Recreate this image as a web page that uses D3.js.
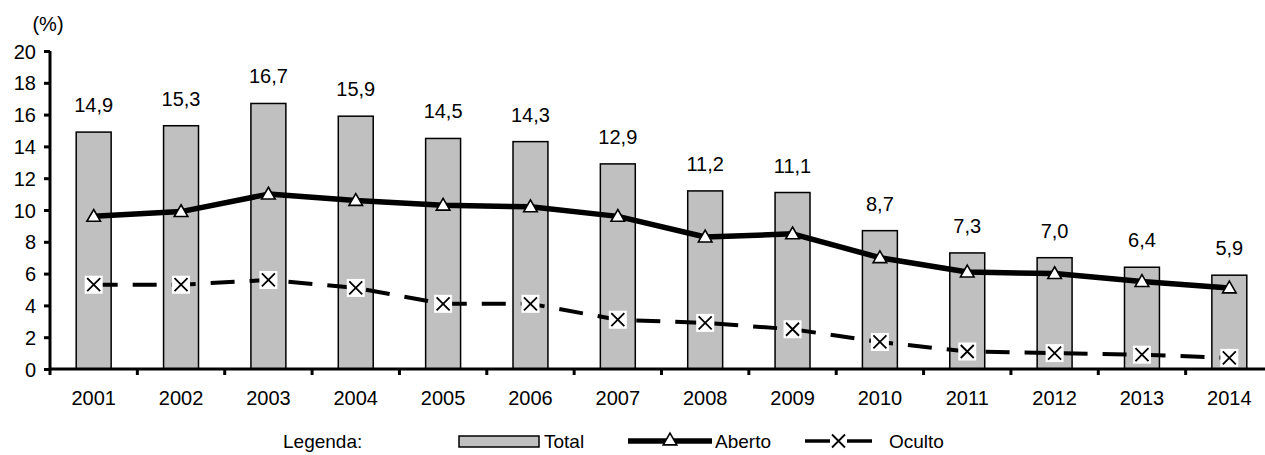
<!DOCTYPE html>
<html>
<head>
<meta charset="utf-8">
<script src="https://cdn.jsdelivr.net/npm/d3@7"></script>
<style>
  body { margin: 0; background: #fff; }
  svg text { font-family: Arial, "Liberation Sans", sans-serif; fill: #000; }
</style>
</head>
<body>
<div id="chart"></div>
<script>
const years = ["2001", "2002", "2003", "2004", "2005", "2006", "2007", "2008", "2009", "2010", "2011", "2012", "2013", "2014"];
const total = [14.9, 15.3, 16.7, 15.9, 14.5, 14.3, 12.9, 11.2, 11.1, 8.7, 7.3, 7.0, 6.4, 5.9];
const aberto = [9.6, 9.9, 11.0, 10.6, 10.3, 10.2, 9.6, 8.3, 8.5, 7.0, 6.1, 6.0, 5.5, 5.1];
const oculto = [5.3, 5.3, 5.6, 5.1, 4.1, 4.1, 3.1, 2.9, 2.5, 1.7, 1.1, 1.0, 0.9, 0.7];
const yTicks = [0, 2, 4, 6, 8, 10, 12, 14, 16, 18, 20];

const W = 1265, H = 455;
const fmt = v => v.toFixed(1).replace(".", ",");

const svg = d3.select("#chart").append("svg")
    .attr("width", W)
    .attr("height", H);

// scales
const x = d3.scaleBand()
    .domain(years)
    .range([50, 1273])
    .paddingInner(0.6)
    .paddingOuter(0.3);
const cx = d => x(d) + x.bandwidth() / 2;
const step = x.step();

const y = d3.scaleLinear()
    .domain([0, 20])
    .range([369, 51]);

// bars
svg.selectAll(".bar")
    .data(years)
    .enter()
    .append("rect")
    .attr("class", "bar")
    .attr("x", d => x(d))
    .attr("y", (d, i) => y(total[i]))
    .attr("width", x.bandwidth())
    .attr("height", (d, i) => y(0) - y(total[i]))
    .style("fill", "#c0c0c0")
    .style("stroke", "#000")
    .style("stroke-width", 1.5);

svg.selectAll(".bar-label")
    .data(years)
    .enter()
    .append("text")
    .attr("class", "bar-label")
    .attr("x", d => cx(d))
    .attr("y", (d, i) => y(total[i]) - 20)
    .attr("text-anchor", "middle")
    .style("font-size", "20px")
    .text((d, i) => fmt(total[i]));

// y axis
const yAxis = svg.append("g")
    .attr("transform", "translate(50,0)")
    .call(d3.axisLeft(y).tickValues(yTicks).tickSize(6).tickPadding(8));
yAxis.select(".domain").attr("d", `M0,${y(20)}V${y(0) + 6}`).style("stroke-width", 3);
yAxis.selectAll(".tick line").style("stroke-width", 3);
yAxis.selectAll(".tick text").style("font-size", "20px").attr("dy", "0.35em");

svg.append("text")
    .attr("x", 48)
    .attr("y", 31)
    .attr("text-anchor", "middle")
    .style("font-size", "20px")
    .text("(%)");

// x axis
const xAxis = svg.append("g")
    .attr("transform", `translate(0,${y(0)})`)
    .call(d3.axisBottom(x).tickSize(0).tickPadding(22));
xAxis.select(".domain").attr("d", `M50,0H1273`).style("stroke-width", 3);
xAxis.selectAll(".tick text").style("font-size", "20px");
xAxis.selectAll(".sep")
    .data(years.slice(1))
    .enter()
    .append("line")
    .attr("class", "sep")
    .attr("x1", d => x(d) - step * 0.3)
    .attr("x2", d => x(d) - step * 0.3)
    .attr("y1", 0)
    .attr("y2", 6)
    .style("stroke", "#000")
    .style("stroke-width", 3);

// lines
const line = d3.line()
    .x((d, i) => cx(years[i]))
    .y(d => y(d));

svg.append("path")
    .datum(oculto)
    .attr("d", line)
    .style("fill", "none")
    .style("stroke", "#000")
    .style("stroke-width", 4)
    .style("stroke-dasharray", "24,15");

svg.append("path")
    .datum(aberto)
    .attr("d", line)
    .style("fill", "none")
    .style("stroke", "#000")
    .style("stroke-width", 5.5)
    .style("stroke-linejoin", "round");

const tri = d3.symbol().type(d3.symbolTriangle).size(80);
const drawTri = (sel) => sel.append("path")
    .attr("d", tri)
    .style("fill", "#fff")
    .style("stroke", "#000")
    .style("stroke-width", 1.6);

const drawX = (sel, box) => {
    if (box) {
        sel.append("rect")
            .attr("x", -9).attr("y", -9)
            .attr("width", 18).attr("height", 18)
            .style("fill", "#fff");
    }
    sel.append("path")
        .attr("d", "M-6.5,-6.5L6.5,6.5M-6.5,6.5L6.5,-6.5")
        .style("stroke", "#000")
        .style("stroke-width", 1.8);
};

svg.selectAll(".oc-mark")
    .data(oculto)
    .enter()
    .append("g")
    .attr("class", "oc-mark")
    .attr("transform", (d, i) => `translate(${cx(years[i])},${y(d)})`)
    .each(function () { drawX(d3.select(this), true); });

svg.selectAll(".ab-mark")
    .data(aberto)
    .enter()
    .append("g")
    .attr("class", "ab-mark")
    .attr("transform", (d, i) => `translate(${cx(years[i])},${y(d) + 1})`)
    .each(function () { drawTri(d3.select(this)); });

// legend
const lg = svg.append("g");
const ly = 441;
lg.append("text")
    .attr("x", 283)
    .attr("y", ly + 7)
    .style("font-size", "19px")
    .text("Legenda:");

lg.append("rect")
    .attr("x", 459).attr("y", ly - 5)
    .attr("width", 80).attr("height", 11)
    .style("fill", "#c0c0c0")
    .style("stroke", "#000")
    .style("stroke-width", 1.5);
lg.append("text")
    .attr("x", 544).attr("y", ly + 7)
    .style("font-size", "19px")
    .text("Total");

lg.append("line")
    .attr("x1", 628).attr("x2", 712)
    .attr("y1", ly).attr("y2", ly)
    .style("stroke", "#000")
    .style("stroke-width", 5.5);
drawTri(lg.append("g").attr("transform", `translate(670,${ly})`));
lg.append("text")
    .attr("x", 715).attr("y", ly + 7)
    .style("font-size", "19px")
    .text("Aberto");

lg.append("line")
    .attr("x1", 805).attr("x2", 830)
    .attr("y1", ly).attr("y2", ly)
    .style("stroke", "#000")
    .style("stroke-width", 3.5);
lg.append("line")
    .attr("x1", 847).attr("x2", 872)
    .attr("y1", ly).attr("y2", ly)
    .style("stroke", "#000")
    .style("stroke-width", 3.5);
drawX(lg.append("g").attr("transform", `translate(838.5,${ly})`), false);
lg.append("text")
    .attr("x", 889).attr("y", ly + 7)
    .style("font-size", "19px")
    .text("Oculto");
</script>
</body>
</html>
